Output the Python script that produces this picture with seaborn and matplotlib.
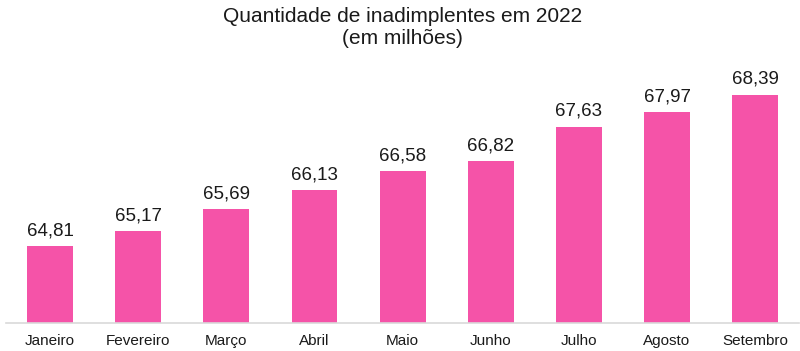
import matplotlib
matplotlib.use("Agg")
import matplotlib.pyplot as plt
import seaborn as sns
import pandas as pd
import numpy as np
from matplotlib.ticker import FixedLocator

months = ["Janeiro", "Fevereiro", "Março", "Abril", "Maio", "Junho", "Julho", "Agosto", "Setembro"]
values = [64.81, 65.17, 65.69, 66.13, 66.58, 66.82, 67.63, 67.97, 68.39]
title_lines = ["Quantidade de inadimplentes em 2022", "(em milhões)"]

sns.set_theme(style="white")
plt.rcParams['font.family'] = ['Liberation Sans', 'DejaVu Sans']

df = pd.DataFrame({"mes": months, "valor": values})

fig = plt.figure(figsize=(8.0, 3.51), dpi=100)
ax = fig.add_axes([0.0075, 1 - 323 / 351, 0.9915, 0.72])

sns.barplot(data=df, x="mes", y="valor", color="#F553A8", saturation=1,
            width=0.52, ax=ax, edgecolor="none")

ax.set_ylim(63.0, 63.0 + 0.72 * 351 / 42.37)
ax.set_xlim(-0.5, len(months) - 0.5)

for i, v in enumerate(values):
    ax.annotate(f"{v:.2f}".replace(".", ","), (i, v), xytext=(0, 5),
                textcoords="offset points", ha="center", va="bottom",
                fontsize=13.5, color="#1a1a1a")

for s in ["top", "right", "left"]:
    ax.spines[s].set_visible(False)
ax.spines["bottom"].set_color("#D9D9D9")
ax.spines["bottom"].set_linewidth(1.2)

ax.set_yticks([])
ax.set_xlabel("")
ax.set_ylabel("")
ax.tick_params(axis="x", which="major", length=0, pad=15.5, labelsize=11, labelcolor="#1a1a1a")
for lab in ax.get_xticklabels():
    lab.set_verticalalignment("baseline")
ax.xaxis.set_minor_locator(FixedLocator(np.arange(-0.5, len(months), 1.0)))
ax.tick_params(axis="x", which="minor", length=4, width=1, color="#D9D9D9", direction="out")

fig.text(0.503, 1 - 16 / 351, title_lines[0], ha="center", va="center", fontsize=15, color="#1a1a1a")
fig.text(0.503, 1 - 38 / 351, title_lines[1], ha="center", va="center", fontsize=15, color="#1a1a1a")

fig.savefig("out.png", dpi=100)
